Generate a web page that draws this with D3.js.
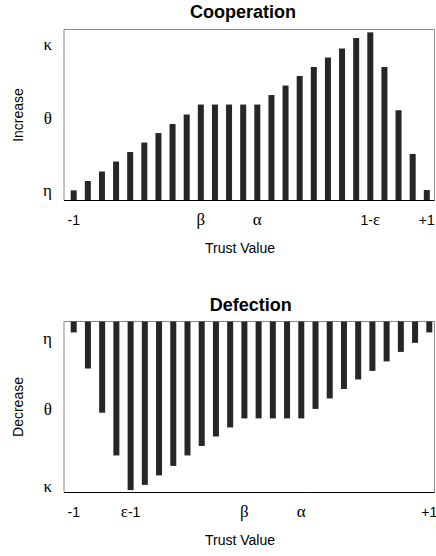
<!DOCTYPE html>
<html>
<head>
<meta charset="utf-8">
<script src="https://cdn.jsdelivr.net/npm/d3@7"></script>
<style>
  body { margin: 0; background: #fff; }
  text { font-family: "Liberation Sans", Arial, sans-serif; fill: #000; }
  .greek { font-family: "Liberation Serif", "Times New Roman", serif; }
</style>
</head>
<body>
<div class="Aligner"></div>
<script>
var trust = [-1, -0.92, -0.84, -0.76, -0.68, -0.6, -0.52, -0.44, -0.36, -0.28, -0.2, -0.12, -0.04,
  0.04, 0.12, 0.2, 0.28, 0.36, 0.44, 0.52, 0.6, 0.68, 0.76, 0.84, 0.92, 1];

var increase = [1.07, 2.05, 3.05, 4.1, 5.1, 6.1, 7.1, 8.05, 9.05, 10.1, 10.1, 10.1, 10.1,
  10.1, 11.1, 12.1, 13.1, 14.05, 15.05, 16, 17.1, 17.7, 14.05, 9.5, 4.9, 1.1];

var decrease = [1.15, 4.95, 9.6, 14.1, 17.75, 17.2, 16.2, 15.2, 14.1, 13.1, 12.1, 11.15, 10.2,
  10.2, 10.2, 10.2, 10.2, 9.2, 8.1, 7.1, 6.1, 5.2, 4.2, 3.2, 2.25, 1.15];

var coopXTicks = [-1, -0.28, 0.04, 0.68, 1];
var coopXLabels = ["-1", "β", "α", "1-ε", "+1"];
var defXTicks = [-1, -0.68, -0.04, 0.28, 1];
var defXLabels = ["-1", "ε-1", "β", "α", "+1"];

var coopYTicks = [1.05, 8.6, 16.4];
var defYTicks = [1.83, 9.34, 17.4];
var yLabels = ["η", "θ", "κ"];

var width = 436, height = 556;
var boxLeft = 64, boxRight = 434.5;
var barW = 6;

var svg = d3.select(".Aligner")
  .append("svg")
  .attr("width", width)
  .attr("height", height);

function isGreek(s){
  return /[α-ω]/.test(s)
}

function addLabel(sel, label){
  // split sans / serif parts so greek gets the serif face
  var parts = label.match(/[α-ω]+|[^α-ω]+/g);
  parts.forEach(function(p){
    sel.append("tspan")
      .attr("class", isGreek(p) ? "greek" : null)
      .style("font-size", isGreek(p) ? "17px" : "14px")
      .text(p);
  });
}

function panel(opts){
  var g = svg.append("g");

  var x = d3.scaleLinear().domain([-1, 1]).range(opts.xRange);
  var y = d3.scaleLinear().domain([0, 18]).range(opts.yRange);

  var top = Math.min(opts.yRange[0], opts.yRange[1]);
  var bottom = Math.max(opts.yRange[0], opts.yRange[1]);

  g.append("path")
    .attr("d", "M" + boxLeft + "," + bottom + "V" + top + "H" + boxRight + "V" + bottom)
    .attr("fill", "none")
    .attr("stroke", "#8a8a8a")
    .attr("stroke-width", 1);

  g.selectAll(".bar")
    .data(opts.values)
    .enter().append("rect")
    .attr("class", "bar")
    .attr("x", function(d, i){ return x(trust[i]) - barW / 2 })
    .attr("y", function(d){ return Math.min(y(0), y(d)) })
    .attr("width", barW)
    .attr("height", function(d){ return Math.abs(y(d) - y(0)) })
    .attr("fill", "#262626");

  g.append("line")
    .attr("x1", boxLeft)
    .attr("x2", boxRight)
    .attr("y1", bottom)
    .attr("y2", bottom)
    .attr("stroke", "#000")
    .attr("stroke-width", 1.2);

  g.selectAll(".xlab")
    .data(opts.xTicks)
    .enter().append("text")
    .attr("class", "xlab")
    .attr("x", function(d){ return x(d) })
    .attr("y", bottom + 24)
    .attr("text-anchor", "middle")
    .each(function(d, i){ addLabel(d3.select(this), opts.xLabels[i]) });

  g.selectAll(".ylab")
    .data(opts.yTicks)
    .enter().append("text")
    .attr("class", "ylab greek")
    .attr("x", 52)
    .attr("y", function(d){ return y(d) })
    .attr("dy", "0.3em")
    .attr("text-anchor", "end")
    .style("font-size", "17px")
    .text(function(d, i){ return yLabels[i] });

  g.append("text")
    .attr("x", opts.titleX)
    .attr("y", opts.titleY)
    .attr("text-anchor", "middle")
    .style("font-size", "18px")
    .style("font-weight", "bold")
    .text(opts.title);

  g.append("text")
    .attr("x", 240)
    .attr("y", bottom + 52)
    .attr("text-anchor", "middle")
    .style("font-size", "14px")
    .text("Trust Value");

  g.append("text")
    .attr("transform", "translate(23.3," + ((top + bottom) / 2) + ") rotate(-90)")
    .attr("text-anchor", "middle")
    .style("font-size", "14px")
    .text(opts.yTitle);
}

panel({
  values: increase,
  xRange: [73.7, 426.8],
  yRange: [200.5, 29.5],
  xTicks: coopXTicks,
  xLabels: coopXLabels,
  yTicks: coopYTicks,
  title: "Cooperation",
  titleX: 243,
  titleY: 17.5,
  yTitle: "Increase"
});

panel({
  values: decrease,
  xRange: [73.7, 429.3],
  yRange: [321.5, 492.5],
  xTicks: defXTicks,
  xLabels: defXLabels,
  yTicks: defYTicks,
  title: "Defection",
  titleX: 250.8,
  titleY: 310.7,
  yTitle: "Decrease"
});
</script>
</body>
</html>
